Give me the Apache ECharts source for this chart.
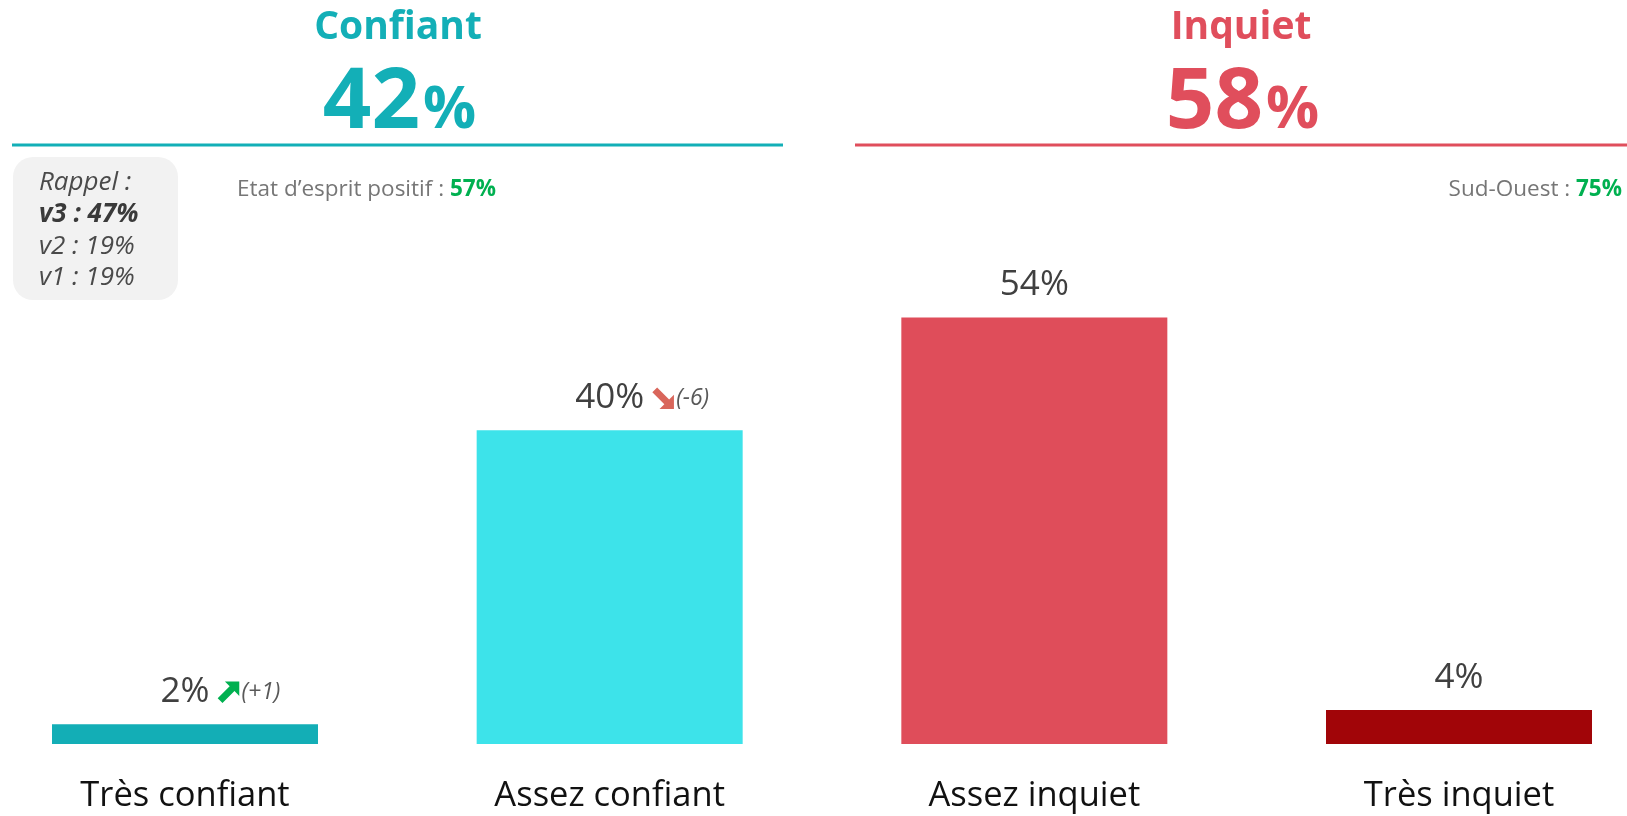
<!DOCTYPE html>
<html>
<head>
<meta charset="utf-8">
<title>Confiant / Inquiet</title>
<script src="https://cdn.jsdelivr.net/npm/echarts@6/dist/echarts.min.js"></script>
<style>
  html, body { margin: 0; padding: 0; background: #fff; }
  #chart { width: 1627px; height: 816px; }
</style>
</head>
<body>
<div id="chart"></div>
<script>
// data
const categories = ['Très confiant', 'Assez confiant', 'Assez inquiet', 'Très inquiet'];
const values = [2.5, 39.8, 54.1, 4.3];
const valueLabels = ['2%', '40%', '54%', '4%'];
const deltas = ['+1', '-6', '', ''];
const barColors = ['#13AEB6', '#3DE3EA', '#DF4D5A', '#A10508'];

const groupNames = ['Confiant', 'Inquiet'];
const groupTotals = ['42', '58'];
const groupColors = ['#13AFB7', '#E04E5C'];

const rappelLines = ['Rappel :', 'v3 : 47%', 'v2 : 19%', 'v1 : 19%'];
const noteLabels = ['Etat d’esprit positif : ', 'Sud-Ouest : '];
const noteValues = ['57%', '75%'];

const FONT = '"Open Sans", "Noto Sans", sans-serif';
const GREEN = '#00B050';
const RED_ARROW = '#D9665B';

const arrowSvg = (color, up) => {
  const pts = up
    ? '7,1 19,1 19,13 15,9 5,19 1,15 11,5'
    : '7,19 19,19 19,7 15,11 5,1 1,5 11,15';
  return 'data:image/svg+xml;charset=utf-8,' + encodeURIComponent(
    `<svg xmlns="http://www.w3.org/2000/svg" width="20" height="20" viewBox="0 0 20 20"><polygon points="${pts}" fill="${color}"/></svg>`);
};

const ARROW = 24;
const DELTA_SIZE = 23;

// width of the suffix (arrow + delta) so the main % stays centred on the bar
const measureCtx = document.createElement('canvas').getContext('2d');
const suffixWidth = (d) => {
  if (!d) return 0;
  measureCtx.font = `italic ${DELTA_SIZE}px ${FONT}`;
  return 7 + ARROW + 1 + measureCtx.measureText(`(${d})`).width;
};

const chart = echarts.init(document.getElementById('chart'));

const header = (i, cx) => ([
  {
    type: 'text', x: cx, y: 28,
    style: { text: groupNames[i], fill: groupColors[i], fontSize: 39, fontWeight: 'bold', fontFamily: FONT,
      align: 'center', verticalAlign: 'middle' }
  },
  {
    type: 'text', x: cx + 22, y: 104,
    style: { text: groupTotals[i], fill: groupColors[i], fontSize: 85, fontWeight: 'bold', fontFamily: FONT,
      align: 'right', verticalAlign: 'middle' }
  },
  {
    type: 'text', x: cx + 25, y: 111,
    style: { text: '%', fill: groupColors[i], fontSize: 59, fontWeight: 'bold', fontFamily: FONT,
      align: 'left', verticalAlign: 'middle' }
  }
]);

const noteRich = {
  a: { fontSize: 22.5, fill: '#767676', fontFamily: FONT },
  b: { fontSize: 22.5, fill: GREEN, fontWeight: 'bold', fontFamily: FONT }
};

chart.setOption({
  animation: false,
  grid: { left: 185, right: 168, top: 271, bottom: 71 },
  xAxis: {
    type: 'category',
    data: categories,
    boundaryGap: false,
    axisLine: { show: false },
    axisTick: { show: false },
    axisLabel: { fontSize: 34.5, color: '#111', fontFamily: FONT, margin: 32, lineHeight: 40 }
  },
  yAxis: { type: 'value', min: 0, max: 60, show: false },
  series: [{
    type: 'bar',
    barWidth: 266,
    data: values.map((v, i) => ({
      value: v,
      itemStyle: { color: barColors[i] },
      label: { offset: [suffixWidth(deltas[i]) / 2, 0] }
    })),
    label: {
      show: true,
      position: 'top',
      distance: 12,
      formatter: (p) => {
        const d = deltas[p.dataIndex];
        const main = `{v|${valueLabels[p.dataIndex]}}`;
        if (!d) return main;
        return main + '{sp|}' + (d.startsWith('-') ? '{dn|}' : '{up|}') + `{d|(${d})}`;
      },
      rich: {
        v: { fontSize: 35, color: '#404040', fontFamily: FONT, lineHeight: 40 },
        sp: { width: 7 },
        up: { width: ARROW, height: ARROW, backgroundColor: { image: arrowSvg(GREEN, true) } },
        dn: { width: ARROW, height: ARROW, backgroundColor: { image: arrowSvg(RED_ARROW, false) } },
        d: { fontSize: DELTA_SIZE, fontStyle: 'italic', color: '#595959', fontFamily: FONT, padding: [0, 0, 0, 1] }
      }
    }
  }],
  graphic: { elements: [
    ...header(0, 398),
    ...header(1, 1241),
    { type: 'line', shape: { x1: 12, y1: 145, x2: 783, y2: 145 }, style: { stroke: groupColors[0], lineWidth: 3 } },
    { type: 'line', shape: { x1: 855, y1: 145, x2: 1627, y2: 145 }, style: { stroke: groupColors[1], lineWidth: 3 } },
    { type: 'rect', shape: { x: 13, y: 157, width: 165, height: 143, r: 20 }, style: { fill: '#F2F2F2' } },
    {
      type: 'text', x: 39, y: 167,
      style: {
        text: rappelLines.map((t, i) => i === 1 ? `{b|${t}}` : `{n|${t}}`).join('\n'),
        align: 'left', verticalAlign: 'top',
        rich: {
          n: { fontSize: 26, fontStyle: 'italic', fill: '#4a4a4a', fontFamily: FONT, lineHeight: 31.7 },
          b: { fontSize: 26, fontStyle: 'italic', fontWeight: 'bold', fill: '#3a3a3a', fontFamily: FONT, lineHeight: 31.7 }
        }
      }
    },
    {
      type: 'text', x: 237, y: 190,
      style: { text: `{a|${noteLabels[0]}}{b|${noteValues[0]}}`, rich: noteRich,
        align: 'left', verticalAlign: 'middle' }
    },
    {
      type: 'text', x: 1622, y: 190,
      style: { text: `{a|${noteLabels[1]}}{b|${noteValues[1]}}`, rich: noteRich,
        align: 'right', verticalAlign: 'middle' }
    }
  ]}
});

window.addEventListener('resize', () => chart.resize());
</script>
</body>
</html>
